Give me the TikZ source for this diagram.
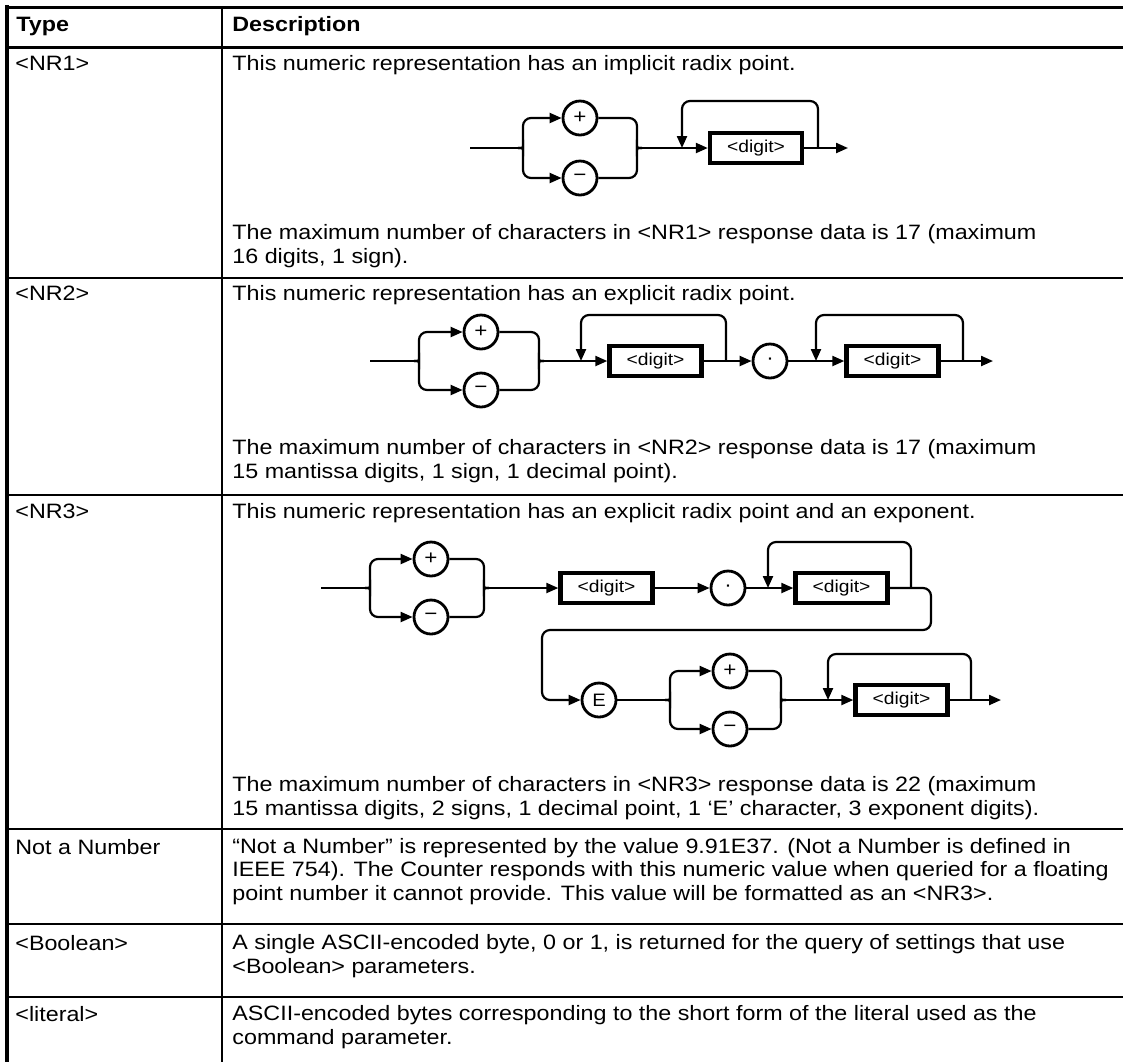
\documentclass[tikz,border=0pt]{standalone}
\usepackage{fontspec}
\setmainfont{Liberation Sans}[FakeStretch=1.12]
\usetikzlibrary{arrows.meta}

\begin{document}
\begin{tikzpicture}[x=0.5pt, y=-0.5pt,
  every node/.style={inner sep=0pt},
  txt/.style={anchor=base west, align=left, font=\fontsize{10.4}{11.6}\selectfont},
  hdr/.style={txt, font=\fontsize{10.4}{11.6}\selectfont\bfseries},
  rule/.style={line width=1pt},
  digitbox/.style={draw, line width=2.2pt, minimum width=46pt, minimum height=15pt, font=\fontsize{8.6}{8.6}\selectfont},
  sym/.style={draw, circle, line width=1.4pt, minimum size=17pt, font=\fontsize{10}{10}\selectfont},
  flow/.style={line width=1.1pt, rounded corners=4pt},
  arr/.style={flow, -{Triangle[length=6pt, width=5pt]}}]
\useasboundingbox (0,0) rectangle (1123,1062);

% Table frame
\draw[line width=1.5pt] (5,7) -- (1123,7);
\draw[line width=1.5pt] (5,47) -- (1123,47);
\draw[line width=2pt] (7,5) -- (7,1062);
\draw[line width=0.7pt] (222,7) -- (222,1062);
\foreach \y in {278,495,829,924,997}
  \draw[rule] (7,\y) -- (1123,\y);

% Header
\node[hdr] (hType) at (16,31) {Type};
\node[hdr] (hDesc) at (232,31) {Description};

% <NR1>  (multi-line texts are placed by their last line)
\node[txt] (tNRone) at (15,70) {<NR1>};
\node[txt] (dNRone) at (232,70) {This numeric representation has an implicit radix point.};
\node[txt] (mNRone) at (232,263) {The maximum number of characters in <NR1> response data is 17 (maximum\\16 digits, 1 sign).};

\coordinate (aIn) at (470,148);
\coordinate (aSplit) at (518,148);
\node[sym] (aPlus) at (580,118) {+};
\node[sym] (aMinus) at (580,178) {−};
\coordinate (aMerge) at (642,148);
\coordinate (aDrop) at (682,148);
\node[digitbox] (aDig) at (756,148) {<digit>};
\coordinate (aRise) at (818,148);
\coordinate (aEnd) at (848,148);
\draw[flow] (aIn) -- (aSplit);
\draw[arr] (aSplit) .. controls +(5,0) .. +(5,-6) |- (aPlus.west);
\draw[arr] (aSplit) .. controls +(5,0) .. +(5,6) |- (aMinus.west);
\draw[flow] (aMerge) .. controls +(-5,0) .. +(-5,-6) |- (aPlus.east);
\draw[flow] (aMerge) .. controls +(-5,0) .. +(-5,6) |- (aMinus.east);
\draw[arr] (aMerge) -- (aDig.west);
\draw[arr] (aDig.east) -- (aEnd);
\draw[arr] (aRise) -- ++(0,-47) -| (aDrop);

% <NR2>
\node[txt] (tNRtwo) at (15,300) {<NR2>};
\node[txt] (dNRtwo) at (232,300) {This numeric representation has an explicit radix point.};
\node[txt] (mNRtwo) at (232,478) {The maximum number of characters in <NR2> response data is 17 (maximum\\15 mantissa digits, 1 sign, 1 decimal point).};

\coordinate (bIn) at (370,361);
\coordinate (bSplit) at (414,361);
\node[sym] (bPlus) at (481,332) {+};
\node[sym] (bMinus) at (481,390) {−};
\coordinate (bMerge) at (544,361);
\coordinate (bDrop) at (581,361);
\node[digitbox] (bDig) at (655.5,361) {<digit>};
\coordinate (bRise) at (726,361);
\node[sym] (bDot) at (770,361) {·};
\coordinate (bDropB) at (816,361);
\node[digitbox] (bDigB) at (892.5,361) {<digit>};
\coordinate (bRiseB) at (963,361);
\coordinate (bEnd) at (993,361);
\draw[flow] (bIn) -- (bSplit);
\draw[arr] (bSplit) .. controls +(5,0) .. +(5,-6) |- (bPlus.west);
\draw[arr] (bSplit) .. controls +(5,0) .. +(5,6) |- (bMinus.west);
\draw[flow] (bMerge) .. controls +(-5,0) .. +(-5,-6) |- (bPlus.east);
\draw[flow] (bMerge) .. controls +(-5,0) .. +(-5,6) |- (bMinus.east);
\draw[arr] (bMerge) -- (bDig.west);
\draw[arr] (bRise) -- ++(0,-46) -| (bDrop);
\draw[arr] (bDig.east) -- (bDot.west);
\draw[arr] (bDot.east) -- (bDigB.west);
\draw[arr] (bRiseB) -- ++(0,-46) -| (bDropB);
\draw[arr] (bDigB.east) -- (bEnd);

% <NR3>
\node[txt] (tNRthree) at (15,518) {<NR3>};
\node[txt] (dNRthree) at (232,518) {This numeric representation has an explicit radix point and an exponent.};
\node[txt] (mNRthree) at (232,815) {The maximum number of characters in <NR3> response data is 22 (maximum\\15 mantissa digits, 2 signs, 1 decimal point, 1 ‘E’ character, 3 exponent digits).};

\coordinate (cIn) at (321,588);
\coordinate (cSplit) at (365,588);
\node[sym] (cPlus) at (431,559) {+};
\node[sym] (cMinus) at (431,617) {−};
\coordinate (cMerge) at (489,588);
\node[digitbox] (cDig) at (606.5,588) {<digit>};
\node[sym] (cDot) at (728,588) {·};
\coordinate (cDrop) at (768,588);
\node[digitbox] (cDigB) at (841.5,588) {<digit>};
\coordinate (cRise) at (911,588);
\coordinate (cWrapR) at (931,630);
\coordinate (cWrapL) at (542,630);
\node[sym] (cE) at (599,700) {\fontsize{9}{9}\selectfont E};
\coordinate (cSplitB) at (665,700);
\node[sym] (cPlusB) at (730,671) {+};
\node[sym] (cMinusB) at (730,729) {−};
\coordinate (cMergeB) at (786,700);
\coordinate (cDropB) at (828,700);
\node[digitbox] (cDigC) at (901.5,700) {<digit>};
\coordinate (cRiseB) at (971,700);
\coordinate (cEnd) at (1001,700);
\draw[flow] (cIn) -- (cSplit);
\draw[arr] (cSplit) .. controls +(5,0) .. +(5,-6) |- (cPlus.west);
\draw[arr] (cSplit) .. controls +(5,0) .. +(5,6) |- (cMinus.west);
\draw[flow] (cMerge) .. controls +(-5,0) .. +(-5,-6) |- (cPlus.east);
\draw[flow] (cMerge) .. controls +(-5,0) .. +(-5,6) |- (cMinus.east);
\draw[arr] (cMerge) -- (cDig.west);
\draw[arr] (cDig.east) -- (cDot.west);
\draw[arr] (cDot.east) -- (cDigB.west);
\draw[arr] (cRise) -- ++(0,-46) -| (cDrop);
\draw[arr] (cDigB.east) -| (cWrapR) -- (cWrapL) |- (cE.west);
\draw[flow] (cE.east) -- (cSplitB);
\draw[arr] (cSplitB) .. controls +(5,0) .. +(5,-6) |- (cPlusB.west);
\draw[arr] (cSplitB) .. controls +(5,0) .. +(5,6) |- (cMinusB.west);
\draw[flow] (cMergeB) .. controls +(-5,0) .. +(-5,-6) |- (cPlusB.east);
\draw[flow] (cMergeB) .. controls +(-5,0) .. +(-5,6) |- (cMinusB.east);
\draw[arr] (cMergeB) -- (cDigC.west);
\draw[arr] (cRiseB) -- ++(0,-46) -| (cDropB);
\draw[arr] (cDigC.east) -- (cEnd);

% Not a Number
\node[txt] (tNaN) at (15,854) {Not a Number};
\node[txt] (dNaN) at (232,900) {“Not a Number” is represented by the value 9.91E37. (Not a Number is defined in\\IEEE 754). The Counter responds with this numeric value when queried for a floating\\point number it cannot provide. This value will be formatted as an <NR3>.};

% <Boolean>
\node[txt] (tBool) at (15,950) {<Boolean>};
\node[txt] (dBool) at (232,973) {A single ASCII-encoded byte, 0 or 1, is returned for the query of settings that use\\<Boolean> parameters.};

% <literal>
\node[txt] (tLit) at (15,1021) {<literal>};
\node[txt] (dLit) at (232,1044) {ASCII-encoded bytes corresponding to the short form of the literal used as the\\command parameter.};
\end{tikzpicture}
\end{document}
